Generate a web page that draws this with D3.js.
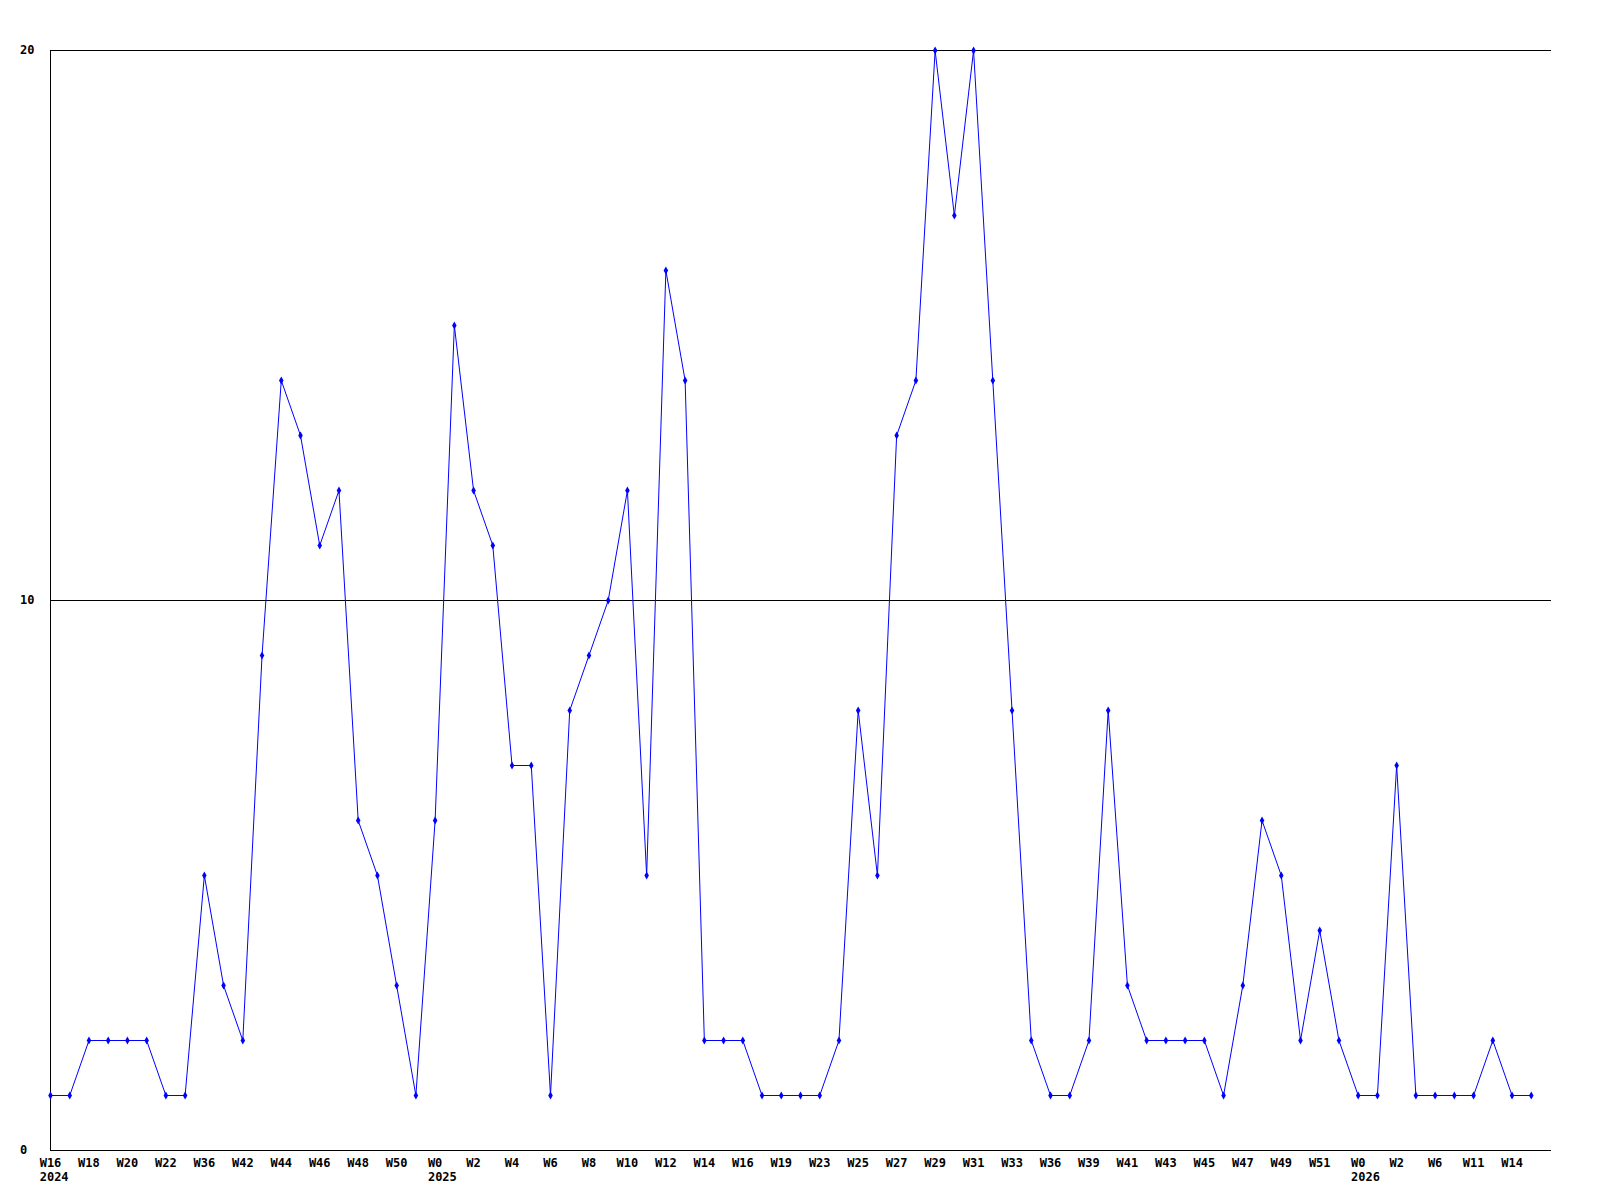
<!DOCTYPE html>
<html>
<head>
<meta charset="utf-8">
<script src="https://cdn.jsdelivr.net/npm/d3@7"></script>
<style>
html,body{margin:0;padding:0;background:#fff;}
svg{display:block;}
text{font-family:"DejaVu Sans Mono","Liberation Mono",monospace;font-weight:bold;font-size:12px;fill:#000;}
</style>
</head>
<body>
<script>
const values = [1,1,2,2,2,2,1,1,5,3,2,9,14,13,11,12,6,5,3,1,6,15,12,11,7,7,1,8,9,10,12,5,16,14,2,2,2,1,1,1,1,2,8,5,13,14,20,17,20,14,8,2,1,1,2,8,3,2,2,2,2,1,3,6,5,2,4,2,1,1,7,1,1,1,1,2,1,1];
const tickLabels = ["W16","W18","W20","W22","W36","W42","W44","W46","W48","W50","W0","W2","W4","W6","W8","W10","W12","W14","W16","W19","W23","W25","W27","W29","W31","W33","W36","W39","W41","W43","W45","W47","W49","W51","W0","W2","W6","W11","W14"];
const yearLabels = [{index:0,label:"2024"},{index:20,label:"2025"},{index:68,label:"2026"}];
const yTicks = [0,10,20];

const W = 1600, H = 1200;
const mLeft = 50, mRight = 1551, mTop = 50, mBottom = 1150;

const svg = d3.select("body").append("svg").attr("width", W).attr("height", H);

const x = d3.scaleLinear().domain([0, values.length]).range([mLeft, mLeft + 1500]);
const y = d3.scaleLinear().domain([0, 20]).range([mBottom, mTop]);

// horizontal grid lines
svg.append("g").selectAll("line").data(yTicks.filter(d => d > 0)).join("line")
  .attr("x1", mLeft).attr("x2", mRight)
  .attr("y1", d => Math.round(y(d)) + 0.5).attr("y2", d => Math.round(y(d)) + 0.5)
  .attr("stroke", "#000").attr("stroke-width", 1);

// axes lines
svg.append("line").attr("x1", mLeft + 0.5).attr("x2", mLeft + 0.5).attr("y1", mTop).attr("y2", mBottom + 1)
  .attr("stroke", "#000");
svg.append("line").attr("x1", mLeft).attr("x2", mRight).attr("y1", mBottom + 0.5).attr("y2", mBottom + 0.5)
  .attr("stroke", "#000");

// y labels
svg.append("g").selectAll("text").data(yTicks).join("text")
  .attr("x", 20).attr("y", d => y(d) + 4)
  .text(d => d);

// x tick labels (every other point)
svg.append("g").selectAll("text").data(tickLabels).join("text")
  .attr("x", (d, i) => x(i * 2) + 0.5).attr("y", 1167)
  .attr("text-anchor", "middle")
  .text(d => d);

// year labels
svg.append("g").selectAll("text").data(yearLabels).join("text")
  .attr("x", d => x(d.index) + 0.5 - (tickLabels[d.index / 2].length * 7.2) / 2).attr("y", 1181)
  .text(d => d.label);

// line
const line = d3.line().x((d, i) => x(i) + 0.5).y(d => y(d) + 0.5);
svg.append("path").datum(values).attr("d", line)
  .attr("fill", "none").attr("stroke", "#0000ff").attr("stroke-width", 1);

// markers
svg.append("g").selectAll("path").data(values).join("path")
  .attr("transform", (d, i) => `translate(${x(i) + 0.5},${y(d) + 0.5})`)
  .attr("d", d3.symbol().type(d3.symbolDiamond).size(18))
  .attr("fill", "#0000ff");
</script>
</body>
</html>
